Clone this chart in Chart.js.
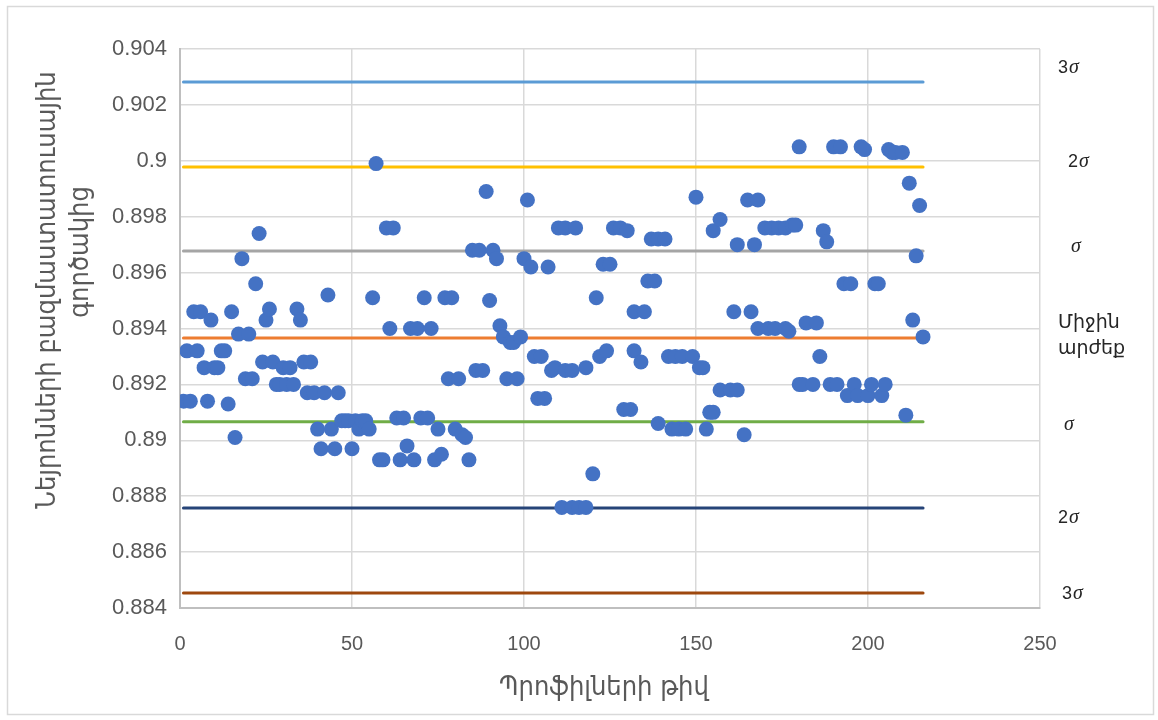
<!DOCTYPE html>
<html>
<head>
<meta charset="utf-8">
<script src="https://cdn.jsdelivr.net/npm/chart.js@4.4.1/dist/chart.umd.min.js"></script>
<style>
  html, body { margin: 0; padding: 0; background: #fff; }
</style>
</head>
<body>
<canvas id="chart" width="1158" height="720"></canvas>
<script>
// Profile number (x) and coefficient value (y)
const profileNo = [
  1, 2, 3, 4, 5, 6, 7, 8, 9, 10,
  11, 12, 13, 14, 15, 16, 17, 18, 19, 20,
  21, 22, 23, 24, 25, 26, 27, 28, 29, 30,
  31, 32, 33, 34, 35, 36, 37, 38, 39, 40,
  41, 42, 43, 44, 45, 46, 47, 48, 49, 50,
  51, 52, 53, 54, 55, 56, 57, 58, 59, 60,
  61, 62, 63, 64, 65, 66, 67, 68, 69, 70,
  71, 72, 73, 74, 75, 76, 77, 78, 79, 80,
  81, 82, 83, 84, 85, 86, 87, 88, 89, 90,
  91, 92, 93, 94, 95, 96, 97, 98, 99, 100,
  101, 102, 103, 104, 105, 106, 107, 108, 109, 110,
  111, 112, 112, 114, 114, 115, 116, 118, 118, 120,
  121, 122, 123, 124, 125, 126, 128, 129, 130, 131,
  132, 132, 134, 135, 136, 137, 138, 139, 139, 141,
  142, 143, 144, 145, 146, 147, 149, 150, 151, 152,
  153, 154, 155, 155, 157, 157, 160, 161, 162, 162,
  164, 165, 166, 167, 168, 168, 170, 171, 172, 173,
  174, 176, 176, 177, 178, 179, 180, 180, 181, 182,
  184, 185, 186, 187, 188, 189, 190, 191, 192, 193,
  194, 195, 196, 197, 198, 199, 200, 201, 202, 203,
  204, 205, 206, 207, 208, 210, 211, 212, 213, 214,
  215, 216
];
const coefValues = [
  0.8914, 0.8932, 0.8914, 0.8946, 0.8932, 0.8946, 0.8926, 0.8914, 0.8943, 0.8926,
  0.8926, 0.8932, 0.8932, 0.8913, 0.8946, 0.8901, 0.8938, 0.8965, 0.8922, 0.8938,
  0.8922, 0.8956, 0.8974, 0.8928, 0.8943, 0.8947, 0.8928, 0.8920, 0.8920, 0.8926,
  0.8920, 0.8926, 0.8920, 0.8947, 0.8943, 0.8928, 0.8917, 0.8928, 0.8917, 0.8904,
  0.8897, 0.8917, 0.8952, 0.8904, 0.8897, 0.8917, 0.8907, 0.8907, 0.8907, 0.8897,
  0.8907, 0.8904, 0.8907, 0.8907, 0.8904, 0.8951, 0.8999, 0.8893, 0.8893, 0.8976,
  0.8940, 0.8976, 0.8908, 0.8893, 0.8908, 0.8898, 0.8940, 0.8893, 0.8940, 0.8908,
  0.8951, 0.8908, 0.8940, 0.8893, 0.8904, 0.8895, 0.8951, 0.8922, 0.8951, 0.8904,
  0.8922, 0.8902, 0.8901, 0.8893, 0.8968, 0.8925, 0.8968, 0.8925, 0.8989, 0.8950,
  0.8968, 0.8965, 0.8941, 0.8937, 0.8922, 0.8935, 0.8935, 0.8922, 0.8937, 0.8965,
  0.8986, 0.8962, 0.8930, 0.8915, 0.8930, 0.8915, 0.8962, 0.8925, 0.8926, 0.8976,
  0.8876, 0.8976, 0.8925, 0.8876, 0.8925, 0.8976, 0.8876, 0.8876, 0.8926, 0.8888,
  0.8951, 0.8930, 0.8963, 0.8932, 0.8963, 0.8976, 0.8976, 0.8911, 0.8975, 0.8911,
  0.8932, 0.8946, 0.8928, 0.8946, 0.8957, 0.8972, 0.8957, 0.8906, 0.8972, 0.8972,
  0.8930, 0.8904, 0.8930, 0.8904, 0.8930, 0.8904, 0.8930, 0.8987, 0.8926, 0.8926,
  0.8904, 0.8910, 0.8910, 0.8975, 0.8979, 0.8918, 0.8918, 0.8946, 0.8970, 0.8918,
  0.8902, 0.8986, 0.8946, 0.8970, 0.8986, 0.8940, 0.8976, 0.8940, 0.8976, 0.8940,
  0.8976, 0.8940, 0.8976, 0.8939, 0.8977, 0.8977, 0.9005, 0.8920, 0.8920, 0.8942,
  0.8920, 0.8942, 0.8930, 0.8975, 0.8971, 0.8920, 0.9005, 0.8920, 0.9005, 0.8956,
  0.8916, 0.8956, 0.8920, 0.8916, 0.9005, 0.9004, 0.8916, 0.8920, 0.8956, 0.8956,
  0.8916, 0.8920, 0.9004, 0.9003, 0.9003, 0.9003, 0.8909, 0.8992, 0.8943, 0.8966,
  0.8984, 0.8937
];

// Control limits (upper 3σ ... lower 3σ) and their labels
const limitValues = [0.90282, 0.89978, 0.89677, 0.89366, 0.89066, 0.88758, 0.88454];
const limitLabels = [['3σ'], ['2σ'], ['σ'], ['Միջին', 'արժեք'], ['σ'], ['2σ'], ['3σ']];
const limitColors = ['#5B9BD5', '#FFC000', '#A5A5A5', '#ED7D31', '#70AD47', '#264478', '#9E480E'];
const limitStart = 1;
const limitEnd = 216;

const yTicks = ['0.884', '0.886', '0.888', '0.89', '0.892', '0.894', '0.896', '0.898', '0.9', '0.902', '0.904'];
const xTitle = 'Պրոֆիլների թիվ';
const yTitle = ['Նեյրոնների բազմաստատուսային', 'գործակից'];

// where each right-hand label sits relative to its line: [x, dy]
const labelPlace = [[1058, -14], [1068, -5], [1070, -4], [1058, -2], [1063, 3], [1058, 10], [1062, 1]];

const points = profileNo.map((x, i) => ({ x: x, y: coefValues[i] }));

const limitSets = limitValues.map((v, i) => ({
  data: [{ x: limitStart, y: v }, { x: limitEnd, y: v }],
  showLine: true,
  borderColor: limitColors[i],
  backgroundColor: limitColors[i],
  borderWidth: 3,
  borderCapStyle: 'round',
  pointRadius: 0,
  order: 1
}));

const decorations = {
  id: 'decorations',
  beforeDraw(chart) {
    const c = chart.ctx;
    c.save();
    c.fillStyle = '#fff';
    c.fillRect(0, 0, chart.width, chart.height);
    c.restore();
  },
  afterDraw(chart) {
    const c = chart.ctx;
    const y = chart.scales.y;
    c.save();

    // outer frame
    c.strokeStyle = '#d9d9d9';
    c.lineWidth = 1.5;
    c.strokeRect(7.5, 6.5, 1146, 708);

    // axis titles
    c.fillStyle = '#595959';
    c.textAlign = 'center';
    c.textBaseline = 'middle';
    c.font = '27px "DejaVu Sans Condensed", "DejaVu Sans", sans-serif';
    c.fillText(xTitle, 604, 688);

    c.save();
    c.translate(48, 290);
    c.rotate(-Math.PI / 2);
    c.fillText(yTitle[0], 0, 0);
    c.restore();
    c.save();
    c.translate(81, 252);
    c.rotate(-Math.PI / 2);
    c.fillText(yTitle[1], 0, 0);
    c.restore();

    // right-hand limit labels
    c.fillStyle = '#262626';
    c.textAlign = 'left';
    limitValues.forEach((v, i) => {
      const lines = limitLabels[i];
      const px = labelPlace[i][0];
      const py = y.getPixelForValue(v) + labelPlace[i][1];
      if (lines.length > 1) {
        c.font = '19px "DejaVu Sans", sans-serif';
        c.fillText(lines[0], px, py - 13);
        c.fillText(lines[1], px, py + 13);
        return;
      }
      const txt = lines[0];
      const digit = txt.length > 1 ? txt[0] : '';
      c.font = '18px "Liberation Sans", sans-serif';
      c.fillText(digit, px, py);
      const w = c.measureText(digit).width;
      c.font = 'italic 20px "Liberation Serif", serif';
      c.fillText('σ', px + w + 1, py);
    });
    c.restore();
  }
};

new Chart(document.getElementById('chart'), {
  type: 'scatter',
  data: {
    datasets: [
      {
        data: points,
        backgroundColor: '#4472C4',
        borderColor: '#4472C4',
        borderWidth: 0,
        pointRadius: 7.5,
        order: 0
      },
      ...limitSets
    ]
  },
  options: {
    responsive: false,
    animation: false,
    layout: { padding: { left: 0, right: 118, top: 49, bottom: 0 } },
    plugins: {
      legend: { display: false },
      tooltip: { enabled: false }
    },
    scales: {
      x: {
        type: 'linear',
        min: 0,
        max: 250,
        ticks: {
          stepSize: 50,
          padding: 24,
          color: '#595959',
          font: { family: 'Liberation Sans', size: 20 }
        },
        grid: { color: '#d9d9d9', lineWidth: 1.5, drawTicks: false },
        border: { color: '#bfbfbf', width: 2 },
        afterFit(scale) { scale.height = 112; }
      },
      y: {
        min: 0.884,
        max: 0.904,
        afterBuildTicks(scale) {
          scale.ticks = yTicks.map(t => ({ value: Number(t) }));
        },
        ticks: {
          padding: 13,
          color: '#595959',
          font: { family: 'Liberation Sans', size: 22 },
          callback: (v, i) => yTicks[i]
        },
        grid: { color: '#d9d9d9', lineWidth: 1.5, drawTicks: false },
        border: { color: '#bfbfbf', width: 2 },
        afterFit(scale) { scale.width = 180; }
      }
    }
  },
  plugins: [decorations]
});
</script>
</body>
</html>
